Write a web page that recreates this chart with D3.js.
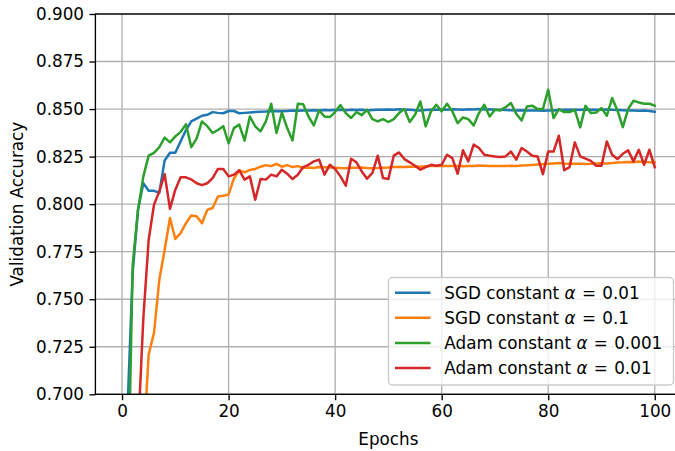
<!DOCTYPE html>
<html>
<head>
<meta charset="utf-8">
<script src="https://cdn.jsdelivr.net/npm/d3@7"></script>
<style>
  html, body { margin: 0; padding: 0; background: #fff; }
  svg { display: block; font-family: "DejaVu Sans", sans-serif; }
</style>
</head>
<body>
<svg id="chart" width="675" height="451"></svg>
<script>
// Validation accuracy per epoch (epoch = array index, 0..100)
const sgd001 = [0.30,0.690,0.764,0.797,0.811,0.807,0.807,0.806,0.823,0.827,
  0.827,0.833,0.839,0.8435,0.845,0.8465,0.847,0.8484,0.848,0.8478,
  0.849,0.8490,0.8478,0.8480,0.8482,0.8484,0.8486,0.8487,0.8489,0.8490,
  0.8488,0.8490,0.8492,0.8491,0.8493,0.8492,0.8494,0.8493,0.8495,0.8494,
  0.8495,0.8496,0.8494,0.8497,0.8495,0.8496,0.8493,0.8495,0.8497,0.8496,
  0.8498,0.8497,0.8499,0.8497,0.8496,0.8494,0.8493,0.8495,0.8497,0.8496,
  0.8498,0.8497,0.8499,0.8498,0.8497,0.8499,0.8498,0.8500,0.8498,0.8499,
  0.8497,0.8496,0.8495,0.8494,0.8493,0.8494,0.8492,0.8493,0.8492,0.8491,
  0.8492,0.8493,0.8495,0.8496,0.8497,0.8496,0.8497,0.8498,0.8497,0.8496,
  0.8497,0.8498,0.8496,0.8495,0.8494,0.8493,0.8492,0.8491,0.8492,0.8490,
  0.8486];

const sgd01 = [0.25,0.45,0.56,0.62,0.672,0.7209,0.7323,0.7603,0.776,0.7927,
  0.7817,0.7848,0.790,0.794,0.7936,0.790,0.797,0.798,0.804,0.8044,
  0.805,0.8135,0.8178,0.8167,0.8180,0.8185,0.8197,0.8205,0.8200,0.8212,
  0.8197,0.8205,0.8195,0.8200,0.8190,0.8193,0.8190,0.8195,0.8194,0.8193,
  0.8192,0.8190,0.8189,0.8191,0.8192,0.8193,0.8190,0.8189,0.8190,0.8192,
  0.8193,0.8195,0.8196,0.8195,0.8197,0.8198,0.8197,0.8199,0.8200,0.8201,
  0.8202,0.8201,0.8200,0.8201,0.8199,0.8200,0.8201,0.8203,0.8202,0.8201,
  0.8200,0.8201,0.8200,0.8202,0.8201,0.8203,0.8204,0.8206,0.8208,0.8210,
  0.8212,0.8214,0.8216,0.8214,0.8213,0.8212,0.8213,0.8211,0.8212,0.8214,
  0.8215,0.8214,0.8216,0.8219,0.8220,0.8222,0.8220,0.8224,0.8222,0.8221,
  0.8220];

const adam0001 = [0.20,0.63,0.768,0.797,0.8146,0.8255,0.827,0.830,0.835,0.8325,
  0.8356,0.838,0.842,0.830,0.8345,0.8435,0.841,0.8374,0.839,0.841,
  0.832,0.840,0.8418,0.8334,0.8461,0.8409,0.8383,0.8435,0.8528,0.8374,
  0.8482,0.840,0.8335,0.8528,0.8526,0.8461,0.8414,0.8493,0.8461,0.8458,
  0.8484,0.8521,0.8479,0.8453,0.8484,0.8468,0.8496,0.8447,0.8435,0.8447,
  0.8432,0.8447,0.8479,0.8500,0.8432,0.8470,0.8540,0.8409,0.8488,0.8523,
  0.8488,0.8528,0.8488,0.8426,0.8456,0.8447,0.8414,0.8479,0.8523,0.8461,
  0.8496,0.8493,0.8510,0.8532,0.8475,0.8440,0.8514,0.8518,0.8500,0.8500,
  0.8602,0.8453,0.8500,0.8484,0.8484,0.8496,0.8404,0.8518,0.8479,0.8482,
  0.8505,0.8465,0.8558,0.8493,0.8405,0.8500,0.8544,0.8535,0.8528,0.8528,
  0.8518];

const adam001 = [0.15,0.45,0.58,0.68,0.74,0.7813,0.7997,0.8067,0.8158,0.7975,
  0.8076,0.8141,0.8141,0.8130,0.8110,0.8100,0.8110,0.8137,0.8185,0.8185,
  0.8146,0.8155,0.8178,0.8129,0.8146,0.8023,0.8132,0.8129,0.8155,0.8146,
  0.8181,0.8160,0.8132,0.8155,0.8195,0.8207,0.8225,0.8234,0.8155,0.8207,
  0.8185,0.8146,0.8097,0.8239,0.8220,0.8172,0.8134,0.8164,0.8255,0.8137,
  0.8132,0.8255,0.8272,0.8237,0.8220,0.8202,0.8181,0.8195,0.8207,0.8202,
  0.8207,0.8260,0.8242,0.8160,0.8283,0.8225,0.8313,0.8295,0.8260,0.8255,
  0.8251,0.8248,0.8251,0.8277,0.8234,0.8295,0.8277,0.8255,0.8251,0.8158,
  0.8277,0.8277,0.8360,0.8178,0.8195,0.8325,0.8251,0.8239,0.8228,0.8202,
  0.8202,0.8330,0.8260,0.8237,0.8265,0.8283,0.8225,0.8286,0.8207,0.8286,
  0.8195];

const seriesNames = ["SGD constant", "SGD constant", "Adam constant", "Adam constant"];
const seriesAlphas = ["0.01", "0.1", "0.001", "0.01"];
const seriesColors = ["#1f77b4", "#ff7f0e", "#2ca02c", "#d62728"];
const seriesValues = [sgd001, sgd01, adam0001, adam001];

const xTicks = [0, 20, 40, 60, 80, 100];
const yTicks = [0.700, 0.725, 0.750, 0.775, 0.800, 0.825, 0.850, 0.875, 0.900];

const FS = 16.8;
const svg = d3.select("#chart");
const plot = { left: 95.4, right: 681.4, top: 14, bottom: 394.3 };

const x = d3.scaleLinear().domain([-5, 105]).range([plot.left, plot.right]);
const y = d3.scaleLinear().domain([0.7, 0.9]).range([plot.bottom, plot.top]);

svg.append("defs").append("clipPath").attr("id", "plotclip")
  .append("rect")
  .attr("x", plot.left).attr("y", plot.top)
  .attr("width", plot.right - plot.left).attr("height", plot.bottom - plot.top);

// grid
const grid = svg.append("g").attr("stroke", "#b0b0b0").attr("stroke-width", 1.35);
grid.selectAll("line.gx").data(xTicks).join("line")
  .attr("x1", d => x(d)).attr("x2", d => x(d))
  .attr("y1", plot.top).attr("y2", plot.bottom);
grid.selectAll("line.gy").data(yTicks).join("line")
  .attr("x1", plot.left).attr("x2", plot.right)
  .attr("y1", d => y(d)).attr("y2", d => y(d));

// series
const line = d3.line().x((d, i) => x(i)).y(d => y(d));
const lines = svg.append("g").attr("clip-path", "url(#plotclip)");
seriesValues.forEach((vals, k) => {
  lines.append("path")
    .datum(vals)
    .attr("d", line)
    .attr("fill", "none")
    .attr("stroke", seriesColors[k])
    .attr("stroke-width", 2.5)
    .attr("stroke-linejoin", "round")
    .attr("stroke-linecap", "square");
});

// axes
const xAxis = d3.axisBottom(x).tickValues(xTicks).tickSize(5.9).tickPadding(5.2)
  .tickFormat(d3.format("d"));
const yAxis = d3.axisLeft(y).tickValues(yTicks).tickSize(5.9).tickPadding(5.5)
  .tickFormat(d3.format(".3f"));

const gx = svg.append("g").attr("transform", `translate(0,${plot.bottom})`).call(xAxis);
const gy = svg.append("g").attr("transform", `translate(${plot.left},0)`).call(yAxis);
[gx, gy].forEach(g => {
  g.select(".domain").remove();
  g.selectAll(".tick line").attr("stroke", "#000").attr("stroke-width", 1.35);
  g.selectAll(".tick text").attr("fill", "#000")
    .style("font-family", "DejaVu Sans").style("font-size", FS + "px");
});

// spines
svg.append("rect")
  .attr("x", plot.left).attr("y", plot.top)
  .attr("width", plot.right - plot.left).attr("height", plot.bottom - plot.top)
  .attr("fill", "none").attr("stroke", "#000").attr("stroke-width", 1.35);

// axis labels
svg.append("text")
  .attr("x", (plot.left + plot.right) / 2).attr("y", 444.5)
  .attr("text-anchor", "middle").style("font-size", FS + "px")
  .text("Epochs");
svg.append("text")
  .attr("transform", `translate(23,${(plot.top + plot.bottom) / 2}) rotate(-90)`)
  .attr("text-anchor", "middle").style("font-size", FS + "px")
  .text("Validation Accuracy");

// legend
const leg = svg.append("g");
leg.append("rect")
  .attr("x", 388.5).attr("y", 277.5).attr("width", 285).attr("height", 107.5)
  .attr("rx", 4).attr("ry", 4)
  .attr("fill", "#fff").attr("fill-opacity", 0.8)
  .attr("stroke", "#cccccc").attr("stroke-width", 1.35);
const rowY = d3.scaleLinear().domain([0, 3]).range([292.7, 368.0]);
seriesColors.forEach((c, k) => {
  const cy = rowY(k);
  leg.append("line")
    .attr("x1", 395).attr("x2", 430.5).attr("y1", cy).attr("y2", cy)
    .attr("stroke", c).attr("stroke-width", 2.5);
  const t = leg.append("text")
    .attr("x", 444.3).attr("y", cy + 0.365 * FS)
    .style("font-size", FS + "px")
    .style("white-space", "pre");
  t.append("tspan").text(seriesNames[k] + " ");
  t.append("tspan").style("font-style", "italic").text("α");
  // math-style spacing around the equals sign
  t.append("tspan").attr("dx", 1).text(" =");
  t.append("tspan").attr("dx", 1).text(" " + seriesAlphas[k]);
});
</script>
</body>
</html>
